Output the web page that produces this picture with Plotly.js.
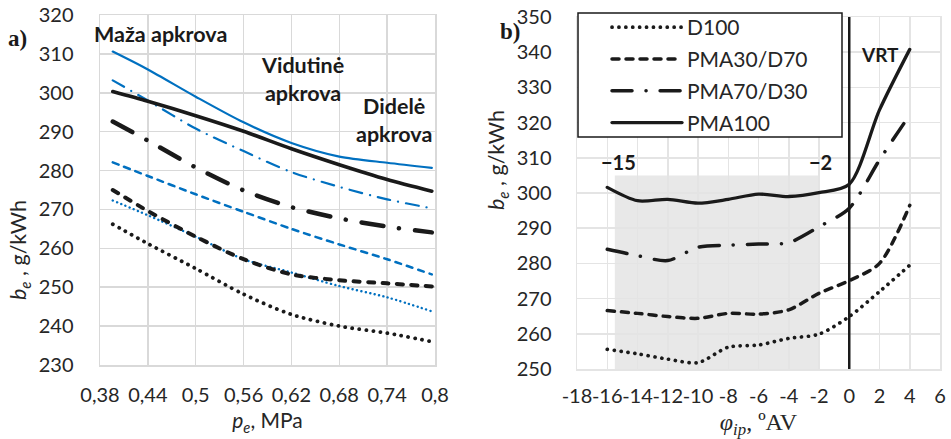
<!DOCTYPE html>
<html>
<head>
<meta charset="utf-8">
<script src="https://cdn.plot.ly/plotly-3.0.1.min.js"></script>
<style>
html,body{margin:0;padding:0;background:#fff;}
#chart{width:951px;height:439px;}
#chart path.js-line{stroke-linecap:round !important;}
</style>
</head>
<body>
<div id="chart"></div>
<script>
// ---------- Left chart (a) ----------
const peValues = [0.396, 0.44, 0.5, 0.56, 0.62, 0.68, 0.74, 0.796];
const leftTickVals = [0.38, 0.44, 0.5, 0.56, 0.62, 0.68, 0.74, 0.8];
const leftTickText = ['0,38', '0,44', '0,5', '0,56', '0,62', '0,68', '0,74', '0,8'];
const blueSolid   = [310.6, 306.0, 299.0, 292.4, 287.1, 283.6, 282.0, 280.7];
const blackSolid  = [300.3, 297.8, 294.1, 290.1, 285.6, 281.5, 277.7, 274.7];
const blueDashDot = [303.2, 298.0, 290.8, 285.0, 279.6, 275.8, 272.6, 270.3];
const blackDashDot= [292.6, 287.7, 280.8, 274.9, 270.6, 267.7, 265.6, 264.1];
const blueDash    = [282.1, 278.6, 273.9, 269.4, 265.0, 261.0, 257.2, 253.3];
const blackDash   = [275.0, 269.6, 263.0, 257.2, 253.3, 251.8, 251.0, 250.2];
const blueDot     = [272.3, 268.5, 263.0, 257.2, 253.8, 250.3, 247.4, 243.8];
const blackDot    = [266.2, 261.2, 254.8, 248.2, 243.0, 240.0, 238.2, 236.0];

// ---------- Right chart (b) ----------
const phiValues = [-16, -14, -12, -10, -8, -6, -4, -2, 0, 2, 4];
const rightTickVals = [-18, -16, -14, -12, -10, -8, -6, -4, -2, 0, 2, 4, 6];
const rightTickText = ['-18', '-16', '-14', '-12', '-10', '-8', '-6', '-4', '-2', '0', '2', '4', '6'];
const seriesNames = ['D100', 'PMA30/D70', 'PMA70/D30', 'PMA100'];
const d100      = [255.6, 254.3, 252.8, 251.8, 256.2, 256.8, 258.7, 259.9, 264.9, 272.0, 279.5];
const pma30d70  = [266.6, 265.8, 264.9, 264.4, 265.8, 265.6, 266.8, 271.5, 275.1, 280.0, 296.5];
const pma70d30  = [284.0, 282.2, 280.8, 284.6, 285.2, 285.5, 285.9, 290.4, 295.7, 309.4, 322.2];
const pma100    = [301.6, 297.8, 298.2, 297.1, 298.2, 299.7, 299.0, 300.1, 302.5, 323.6, 340.8];

const BLUE = '#0070c0', BLACK = '#1a1a1a';
const FONT = 'Lato, "Open Sans", sans-serif';

function lt(y, color, width, dash, xa, ya, name, show) {
  return {
    type: 'scatter', mode: 'lines', x: xa === 'x' ? peValues : phiValues, y: y,
    xaxis: xa, yaxis: ya, name: name || '', showlegend: !!show,
    legendgroup: name || undefined,
    line: {color: color, width: width, dash: dash, shape: 'spline', smoothing: 0.8},
    hoverinfo: 'skip'
  };
}

const traces = [
  lt(blackDot, BLACK, 3.8, '0.1px,7px', 'x', 'y'),
  lt(blueDot, BLUE, 2.4, '0.1px,4.4px', 'x', 'y'),
  lt(blackDash, BLACK, 4, '6px,8.5px', 'x', 'y'),
  lt(blueDash, BLUE, 2.5, '6px,6px', 'x', 'y'),
  lt(blackDashDot, BLACK, 4.5, '22px,16px,0.1px,16px', 'x', 'y'),
  lt(blueDashDot, BLUE, 2.2, '13px,8px,0.1px,8px', 'x', 'y'),
  lt(blueSolid, BLUE, 2.2, 'solid', 'x', 'y'),
  lt(blackSolid, BLACK, 3.6, 'solid', 'x', 'y'),
  lt(d100, BLACK, 3.7, '0.1px,6.8px', 'x2', 'y2', seriesNames[0], true),
  lt(pma30d70, BLACK, 3.5, '7px,7px', 'x2', 'y2', seriesNames[1], true),
  lt(pma70d30, BLACK, 3.5, '20px,14px,0.1px,14px', 'x2', 'y2', seriesNames[2], true),
  lt(pma100, BLACK, 3.3, 'solid', 'x2', 'y2', seriesNames[3], true)
];

const gridL = '#d9d9d9', gridR = '#e4e4e4';
const tickFont = {family: FONT, size: 20, color: '#262626'};
const ann = (text, x, y, size, extra) => Object.assign({
  text: text, xref: 'paper', yref: 'paper', x: x/951, y: 1 - y/439,
  xanchor: 'center', yanchor: 'middle', showarrow: false,
  font: {family: FONT, size: size, color: '#1a1a1a'}
}, extra || {});

const layout = {
  width: 951, height: 439,
  margin: {l: 0, r: 0, t: 0, b: 0},
  paper_bgcolor: '#ffffff', plot_bgcolor: 'rgba(0,0,0,0)',
  font: {family: FONT, color: '#262626'},
  showlegend: true,
  legend: {
    x: 607/951, y: 1 - 7/439, xanchor: 'left', yanchor: 'top',
    bgcolor: 'rgba(0,0,0,0)', borderwidth: 0,
    font: {family: FONT, size: 21, color: '#262626'},
    itemwidth: 70, traceorder: 'grouped', tracegroupgap: 1.5
  },
  xaxis: {
    domain: [100/951, 435/951], range: [0.38, 0.8],
    tickvals: leftTickVals, ticktext: leftTickText, tickfont: tickFont, tickangle: 0,
    showgrid: true, gridcolor: gridL, gridwidth: 1.5,
    showline: true, linecolor: gridL, linewidth: 1.5, mirror: true,
    zeroline: false, ticks: '', ticklabelstandoff: 11,
    title: {text: '<i>p</i><sub><i>e</i></sub>, MPa', font: {family: FONT, size: 21, color: '#262626'}, standoff: 9}
  },
  yaxis: {
    domain: [1 - 365/439, 1 - 15/439], range: [230, 320], dtick: 10, tick0: 230,
    tickfont: tickFont, showgrid: true, gridcolor: gridL, gridwidth: 1.5,
    showline: true, linecolor: gridL, linewidth: 1.5, mirror: true,
    zeroline: false, ticks: '', ticklabelstandoff: 21
  },
  xaxis2: {
    domain: [577/951, 940/951], range: [-18, 6], anchor: 'y2',
    tickvals: rightTickVals, ticktext: rightTickText, tickfont: tickFont, tickangle: 0,
    showgrid: true, gridcolor: gridR, gridwidth: 1.5,
    showline: true, linecolor: gridR, linewidth: 1.5, mirror: true,
    zeroline: false, ticks: '', ticklabelstandoff: 8,
    title: {text: '<i>φ</i><sub><i>ip</i></sub>, ºAV', font: {family: '"Liberation Serif", "DejaVu Serif", serif', size: 24, color: '#262626'}, standoff: 10}
  },
  yaxis2: {
    domain: [1 - 369/439, 1 - 17/439], range: [250, 350], dtick: 10, tick0: 250, anchor: 'x2',
    tickfont: tickFont, showgrid: true, gridcolor: gridR, gridwidth: 1.5,
    showline: true, linecolor: gridR, linewidth: 1.5, mirror: true,
    zeroline: false, ticks: '', ticklabelstandoff: 20
  },
  shapes: [
    {type: 'rect', xref: 'x2', yref: 'y2', x0: -15.5, x1: -2, y0: 250, y1: 305,
     fillcolor: '#e8e8e8', line: {width: 0}, layer: 'below'},
    {type: 'line', xref: 'x2', yref: 'y2', x0: 0, x1: 0, y0: 250, y1: 350,
     line: {color: '#1a1a1a', width: 2.5}, layer: 'above'},
    {type: 'rect', xref: 'paper', yref: 'paper', x0: 578/951, x1: 842/951, y0: 1 - 137/439, y1: 1 - 13/439,
     fillcolor: '#ffffff', line: {color: '#1a1a1a', width: 1.5}, layer: 'above'}
  ],
  annotations: [
    ann('<b>a)</b>', 17, 38, 23, {font: {family: '"Liberation Serif", serif', size: 23, color: '#1a1a1a'}}),
    ann('<b>b)</b>', 510, 31, 23, {font: {family: '"Liberation Serif", serif', size: 23, color: '#1a1a1a'}}),
    ann('<b>Maža apkrova</b>', 160, 34, 21.5),
    ann('<b>Vidutinė<br>apkrova</b>', 302, 79, 21.5),
    ann('<b>Didelė<br>apkrova</b>', 394, 120, 21.5),
    ann('<i>b</i><sub><i>e</i></sub> , g/kWh', 19, 250, 21.5, {textangle: -90, font: {family: FONT, size: 21.5, color: '#262626'}}),
    ann('<i>b</i><sub><i>e</i></sub> , g/kWh', 497, 160, 21.5, {textangle: -90, font: {family: FONT, size: 21.5, color: '#262626'}}),
    ann('<b>−15</b>', 618, 162, 20),
    ann('<b>−2</b>', 820, 162, 20),
    ann('<b>VRT</b>', 880, 55, 19)
  ]
};

Plotly.newPlot('chart', traces, layout, {staticPlot: true, displayModeBar: false});
</script>
</body>
</html>
